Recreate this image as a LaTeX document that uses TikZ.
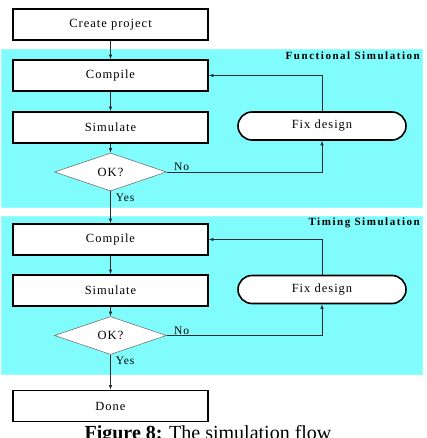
\documentclass[tikz,border=0pt]{standalone}
\usepackage{fontspec}
\setmainfont{Liberation Serif}
\newfontfamily\boxfont[LetterSpace=8]{Liberation Serif}
\newfontfamily\titlefont[LetterSpace=14]{Liberation Serif}
\usetikzlibrary{shapes.geometric,shapes.misc,arrows.meta}
\definecolor{panelcyan}{RGB}{128,252,252}
\definecolor{edgegray}{RGB}{35,45,50}
\tikzset{
   >={Latex[length=4.5pt,width=3.5pt]},
   panel/.style={fill=panelcyan, draw=panelcyan!80!white, line width=0.8pt},
}

\begin{document}
\begin{tikzpicture}[x=1pt,y=-1pt]
  \tikzstyle{state} = [draw=black, line width=1.6pt, fill=white, rectangle, minimum height=31pt, minimum width=195pt, inner sep=0pt, font={\boxfont\fontsize{12.5}{14}\selectfont}]
  \tikzstyle{decision} = [draw=black!55, line width=0.6pt, fill=white, diamond, aspect=3, minimum height=38pt, minimum width=112pt, inner sep=0pt, font={\boxfont\fontsize{12.5}{14}\selectfont}]
  \tikzstyle{fixStep} = [draw=black, line width=1.6pt, fill=white, rounded rectangle, minimum height=28pt, minimum width=168pt, inner sep=0pt, font={\boxfont\fontsize{12.5}{14}\selectfont}]
  \tikzstyle{stateEdge} = [draw=edgegray, line width=0.7pt, ->];
  \tikzstyle{edgeLabel} = [inner sep=1pt, font={\boxfont\fontsize{11.5}{13}\selectfont}];
  \tikzstyle{panelTitle} = [anchor=east, inner sep=0pt, font={\titlefont\bfseries\fontsize{11}{12}\selectfont}];
  \useasboundingbox (0,0) rectangle (426,438);

  % the two simulation panels
  \fill[panel] (1,49) rectangle (422,207);
  \fill[panel] (1,216) rectangle (422,374);
  \node[panelTitle, name=titleA] at (420,55.5) {Functional Simulation};
  \node[panelTitle, name=titleB] at (420,222.5) {Timing Simulation};

  \node[state, name=create] at (110.5,24.5) {Create project};
  \node[state, name=compA, below of=create, node distance=51pt] {Compile};
  \node[state, name=simA, below of=compA, node distance=52pt] {Simulate};
  \node[decision, name=okA, below of=simA, node distance=44.5pt] {OK?};
  \node[fixStep, name=fixA, right of=simA, node distance=211.5pt, yshift=1.5pt] {Fix design};

  \node[state, name=compB, below of=okA, node distance=67.5pt] {Compile};
  \node[state, name=simB, below of=compB, node distance=51pt] {Simulate};
  \node[decision, name=okB, below of=simB, node distance=45pt] {OK?};
  \node[fixStep, name=fixB, right of=simB, node distance=211.5pt, yshift=1pt] {Fix design};
  \node[state, name=done, below of=okB, node distance=70.5pt] {Done};

  \draw[stateEdge] (create) -- (compA);
  \draw[stateEdge] (compA) -- (simA);
  \draw[stateEdge] (simA) -- (okA);
  \draw[stateEdge] (okA.east) -| node[edgeLabel, at start, anchor=south west, xshift=6pt]{No} (fixA.south);
  \draw[stateEdge] (fixA.north) |- (compA.east);
  \draw[stateEdge] (okA) -- node[edgeLabel, at start, anchor=north west, xshift=4pt, yshift=-1pt]{Yes} (compB);

  \draw[stateEdge] (compB) -- (simB);
  \draw[stateEdge] (simB) -- (okB);
  \draw[stateEdge] (okB.east) -| node[edgeLabel, at start, anchor=south west, xshift=6pt]{No} (fixB.south);
  \draw[stateEdge] (fixB.north) |- (compB.east);
  \draw[stateEdge] (okB) -- node[edgeLabel, at start, anchor=north west, xshift=4pt, yshift=-1pt]{Yes} (done);

  \node[name=caption, anchor=base, inner sep=0pt, font={\fontsize{20}{22}\selectfont}] at (208,439) {\textbf{Figure 8:} The simulation flow};
\end{tikzpicture}
\end{document}
